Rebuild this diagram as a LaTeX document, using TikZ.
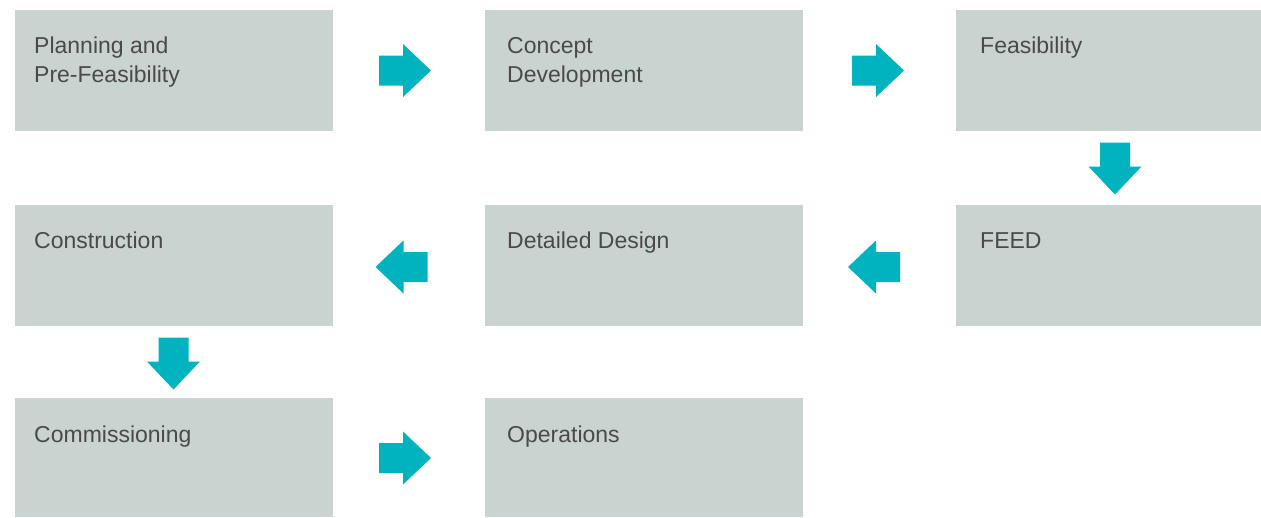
\documentclass[tikz,border=0pt]{standalone}
\usepackage{fontspec}
\setmainfont{Liberation Sans}
\definecolor{boxc}{HTML}{C9D3D0}
\definecolor{arrowc}{HTML}{00B3BF}
\definecolor{textc}{HTML}{4A4A4A}
\begin{document}
\begin{tikzpicture}[x=1pt,y=-1pt,
  stage/.style={fill=boxc,draw=none,rectangle,anchor=north west,inner sep=0pt},
  lbl/.style={anchor=base west,inner sep=0pt,text=textc,font=\fontsize{23}{29}\selectfont,align=left},
  flowarrow/.pic={\fill[arrowc] (-26,-15) -- (-2,-15) -- (-2,-26.5) -- (26,0) -- (-2,26.5) -- (-2,15) -- (-26,15) -- cycle;}]
\useasboundingbox (0,0) rectangle (1261,517);
% row 1
\node[stage,minimum width=318pt,minimum height=121pt] (b1) at (15,10) {};
\node[stage,minimum width=318pt,minimum height=121pt] (b2) at (485,10) {};
\node[stage,minimum width=305pt,minimum height=121pt] (b3) at (956,10) {};
% row 2
\node[stage,minimum width=318pt,minimum height=121pt] (b6) at (15,205) {};
\node[stage,minimum width=318pt,minimum height=121pt] (b5) at (485,205) {};
\node[stage,minimum width=305pt,minimum height=121pt] (b4) at (956,205) {};
% row 3
\node[stage,minimum width=318pt,minimum height=119pt] (b7) at (15,398) {};
\node[stage,minimum width=318pt,minimum height=119pt] (b8) at (485,398) {};
% labels (base of the last line)
\node[lbl] (t1) at (34,82) {Planning and\\Pre-Feasibility};
\node[lbl] (t2) at (507,82) {Concept\\Development};
\node[lbl] (t3) at (980,53) {Feasibility};
\node[lbl] (t4) at (980,248) {FEED};
\node[lbl] (t5) at (507,248) {Detailed Design};
\node[lbl] (t6) at (34,248) {Construction};
\node[lbl] (t7) at (34,442) {Commissioning};
\node[lbl] (t8) at (507,442) {Operations};
% arrows
\pic at (405,70.5) {flowarrow};
\pic at (878,70.5) {flowarrow};
\pic[rotate=-90] at (1115,168.5) {flowarrow};
\pic[rotate=180] at (874,267) {flowarrow};
\pic[rotate=180] at (401.5,267) {flowarrow};
\pic[rotate=-90] at (173.5,363.5) {flowarrow};
\pic at (405,458) {flowarrow};
\end{tikzpicture}
\end{document}
